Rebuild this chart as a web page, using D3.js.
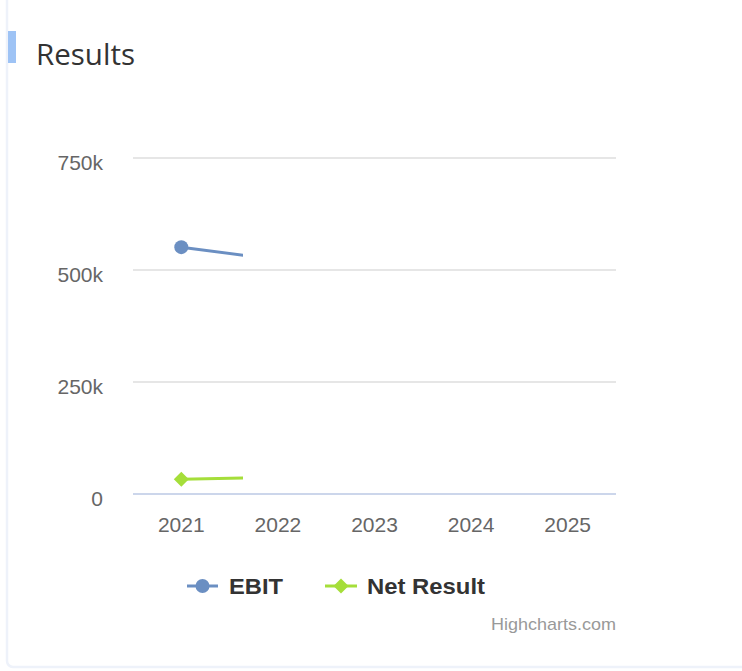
<!DOCTYPE html>
<html><head><meta charset="utf-8">
<script src="https://cdn.jsdelivr.net/npm/d3@7"></script>
<style>
html,body{margin:0;padding:0;background:#fff;}
svg{display:block;}
</style></head>
<body>
<svg id="c" width="742" height="671"></svg>
<script>
const categories = ["2021","2022","2023","2024","2025"];
const ebit = [551000, 523000];
const netResult = [33000, 37000];
const yTicks = [0, 250000, 500000, 750000];
const yTickLabels = ["0","250k","500k","750k"];
const seriesNames = ["EBIT","Net Result"];
const seriesColors = ["#6b8fc2","#a5de3a"];
const revealFraction = 0.228;

const svg = d3.select("#c");
// card
svg.append("rect").attr("x",7).attr("y",-10).attr("width",760).attr("height",677)
  .attr("rx",6).attr("fill","#fff").attr("stroke","#eef2fa").attr("stroke-width",2.5);
// title
svg.append("rect").attr("x",8).attr("y",31).attr("width",8).attr("height",32).attr("fill","#9ec3f5");
svg.append("text").attr("x",36).attr("y",65).text("Results")
  .attr("font-family","'Open Sans', 'Noto Sans', sans-serif").attr("font-size",29)
  .attr("font-weight",400).attr("fill","#333").attr("textLength",99).attr("lengthAdjust","spacingAndGlyphs");

const pLeft=133, pRight=616, pTop=158, pBottom=494;
const x = d3.scaleBand().domain(categories).range([pLeft,pRight]);
const y = d3.scaleLinear().domain([0,750000]).range([pBottom,pTop]);
const cx = c => x(c)+x.bandwidth()/2;

const font = "'Liberation Sans', Arial, sans-serif";
// grid
svg.append("g").selectAll("line").data(yTicks.filter(d=>d>0)).join("line")
  .attr("x1",pLeft).attr("x2",pRight).attr("y1",d=>y(d)).attr("y2",d=>y(d))
  .attr("stroke","#e6e6e6").attr("stroke-width",2);
svg.append("line").attr("x1",pLeft).attr("x2",pRight).attr("y1",y(0)).attr("y2",y(0))
  .attr("stroke","#ccd6eb").attr("stroke-width",2);
// y labels
svg.append("g").selectAll("text").data(yTicks).join("text")
  .attr("x",103).attr("y",d=>y(d)+12).attr("text-anchor","end")
  .attr("font-family",font).attr("font-size",21).attr("fill","#666")
  .text((d,i)=>yTickLabels[i]);
// x labels
svg.append("g").selectAll("text").data(categories).join("text")
  .attr("x",d=>cx(d)).attr("y",532).attr("text-anchor","middle")
  .attr("font-family",font).attr("font-size",21).attr("fill","#666").text(d=>d);

// clip (animation reveal)
svg.append("clipPath").attr("id","clip").append("rect")
  .attr("x",pLeft-20).attr("y",pTop-20).attr("width",(pRight-pLeft)*revealFraction+20).attr("height",pBottom-pTop+40);

const line = d3.line().x((d,i)=>cx(categories[i])).y(d=>y(d));
const g = svg.append("g").attr("clip-path","url(#clip)");
g.append("path").attr("d",line(ebit)).attr("fill","none").attr("stroke",seriesColors[0]).attr("stroke-width",3);
g.append("path").attr("d",line(netResult)).attr("fill","none").attr("stroke",seriesColors[1]).attr("stroke-width",3);
g.selectAll("circle.e").data(ebit).join("circle").attr("class","e")
  .attr("cx",(d,i)=>cx(categories[i])).attr("cy",d=>y(d)).attr("r",7).attr("fill",seriesColors[0]);
const diamond = (px,py,r)=>`M${px},${py-r}L${px+r},${py}L${px},${py+r}L${px-r},${py}Z`;
g.selectAll("path.n").data(netResult).join("path").attr("class","n")
  .attr("d",(d,i)=>diamond(cx(categories[i]),y(d),7.5)).attr("fill",seriesColors[1]);

// legend
const ly = 586;
const lg = svg.append("g");
lg.append("line").attr("x1",187).attr("x2",218).attr("y1",ly).attr("y2",ly).attr("stroke",seriesColors[0]).attr("stroke-width",3);
lg.append("circle").attr("cx",202.5).attr("cy",ly).attr("r",7).attr("fill",seriesColors[0]);
lg.append("text").attr("x",229).attr("y",ly+8).text(seriesNames[0])
  .attr("font-family",font).attr("font-size",22).attr("font-weight","bold").attr("fill","#333")
  .attr("textLength",54).attr("lengthAdjust","spacingAndGlyphs");
lg.append("line").attr("x1",325).attr("x2",357).attr("y1",ly).attr("y2",ly).attr("stroke",seriesColors[1]).attr("stroke-width",3);
lg.append("path").attr("d",diamond(341,ly,7.5)).attr("fill",seriesColors[1]);
lg.append("text").attr("x",367).attr("y",ly+8).text(seriesNames[1])
  .attr("font-family",font).attr("font-size",22).attr("font-weight","bold").attr("fill","#333")
  .attr("textLength",118).attr("lengthAdjust","spacingAndGlyphs");

// credits
svg.append("text").attr("x",616).attr("y",630).attr("text-anchor","end").text("Highcharts.com")
  .attr("font-family",font).attr("font-size",17).attr("fill","#999")
  .attr("textLength",125).attr("lengthAdjust","spacingAndGlyphs");
</script>
</body></html>
